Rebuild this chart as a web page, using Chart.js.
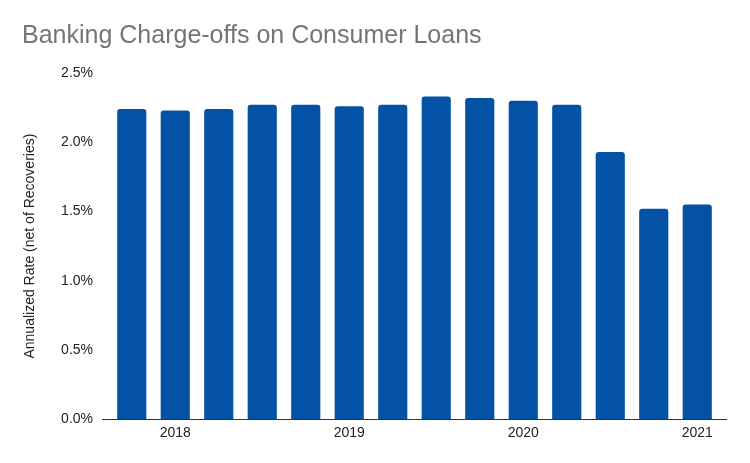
<!DOCTYPE html>
<html>
<head>
<meta charset="utf-8">
<script src="https://cdn.jsdelivr.net/npm/chart.js@4.4.1/dist/chart.umd.min.js"></script>
<style>
  html, body { margin: 0; padding: 0; background: #ffffff; }
  #wrap { width: 750px; height: 463px; }
</style>
</head>
<body>
<div id="wrap"><canvas id="chart"></canvas></div>
<script>
// quarterly net charge-off rate, Q4 2017 .. Q1 2021
var quarters = ['Q4 2017', 'Q1 2018', 'Q2 2018', 'Q3 2018', 'Q4 2018',
                'Q1 2019', 'Q2 2019', 'Q3 2019', 'Q4 2019',
                'Q1 2020', 'Q2 2020', 'Q3 2020', 'Q4 2020', 'Q1 2021'];
var chargeOffRate = [2.24, 2.23, 2.24, 2.27, 2.27, 2.26, 2.27,
                     2.33, 2.32, 2.30, 2.27, 1.93, 1.52, 1.55];
var tickLabels = ['', '2018', '', '', '', '2019', '', '', '',
                  '2020', '', '', '', '2021'];

var FONT = '"Liberation Sans", Arial, sans-serif';

// x baseline runs a little past the outer bars
var baseline = {
  id: 'baseline',
  afterDatasetsDraw: function(chart) {
    var ctx = chart.ctx, a = chart.chartArea;
    var y = Math.round(chart.scales.y.getPixelForValue(0)) + 0.5;
    ctx.save();
    ctx.strokeStyle = '#333333';
    ctx.lineWidth = 1;
    ctx.beginPath();
    ctx.moveTo(a.left - 8, y);
    ctx.lineTo(a.right + 8, y);
    ctx.stroke();
    ctx.restore();
  }
};

new Chart(document.getElementById('chart'), {
  type: 'bar',
  data: {
    labels: quarters,
    datasets: [{
      label: 'Charge-off rate',
      data: chargeOffRate,
      backgroundColor: '#0352a5',
      borderRadius: 3,
      barPercentage: 0.67,
      categoryPercentage: 1.0
    }]
  },
  options: {
    responsive: true,
    maintainAspectRatio: false,
    animation: false,
    layout: { padding: { left: 22, right: 31, top: 0, bottom: 15 } },
    plugins: {
      legend: { display: false },
      tooltip: { enabled: false },
      title: {
        display: true,
        text: 'Banking Charge-offs on Consumer Loans',
        align: 'start',
        color: '#757575',
        font: { family: FONT, size: 25, weight: 'normal' },
        padding: { top: 21, bottom: 22 }
      }
    },
    scales: {
      x: {
        grid: { display: false, drawTicks: false },
        border: { display: false },
        ticks: {
          autoSkip: false,
          maxRotation: 0,
          padding: 6,
          color: '#222222',
          font: { family: FONT, size: 14 },
          callback: function(v, i) { return tickLabels[i]; }
        }
      },
      y: {
        min: 0,
        max: 2.5,
        grid: { display: false, drawTicks: false },
        border: { display: false },
        afterFit: function(s) { s.width = 88; },
        title: {
          display: true,
          text: 'Annualized Rate (net of Recoveries)',
          color: '#222222',
          font: { family: FONT, size: 14 },
          padding: 0
        },
        ticks: {
          stepSize: 0.5,
          padding: 17,
          color: '#222222',
          font: { family: FONT, size: 14 },
          callback: function(v) { return v.toFixed(1) + '%'; }
        }
      }
    }
  },
  plugins: [baseline]
});
</script>
</body>
</html>
